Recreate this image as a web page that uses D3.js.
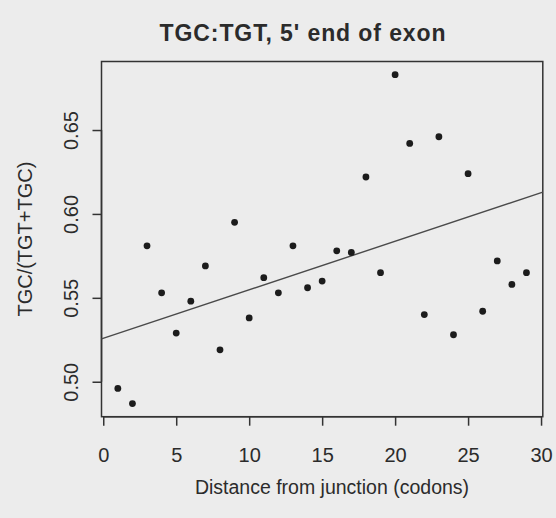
<!DOCTYPE html>
<html>
<head>
<meta charset="utf-8">
<script src="https://cdn.jsdelivr.net/npm/d3@7"></script>
<style>
  html, body { margin: 0; padding: 0; background: #ececec; }
  svg { display: block; }
  text { font-family: "Liberation Sans", Arial, Helvetica, sans-serif; fill: #2b2b2b; }
</style>
</head>
<body>
<svg id="chart" width="556" height="518"></svg>
<script>
// Codon position from the exon junction and TGC share at each position
const distance = [1, 2, 3, 4, 5, 6, 7, 8, 9, 10, 11, 12, 13, 14, 15,
                  16, 17, 18, 19, 20, 21, 22, 23, 24, 25, 26, 27, 28, 29];
const ratio = [0.496, 0.487, 0.581, 0.553, 0.529, 0.548, 0.569, 0.519, 0.595, 0.538,
               0.562, 0.553, 0.581, 0.556, 0.560, 0.578, 0.577, 0.622, 0.565, 0.683,
               0.642, 0.540, 0.646, 0.528, 0.624, 0.542, 0.572, 0.558, 0.565];

// Fitted trend line: ratio = intercept + slope * distance
const trendIntercept = 0.5259;
const trendSlope = 0.00289;

const xTicks = [0, 5, 10, 15, 20, 25, 30];
const yTicks = [0.50, 0.55, 0.60, 0.65];

const titleText = "TGC:TGT, 5' end of exon";
const xLabel = "Distance from junction (codons)";
const yLabel = "TGC/(TGT+TGC)";

const svg = d3.select("#chart");
const plot = { left: 101.5, right: 542.8, top: 61.5, bottom: 416.7 };

// Extend each data range by 4% on both sides
function padded(values) {
  const [lo, hi] = d3.extent(values);
  const pad = (hi - lo) * 0.04;
  return [lo - pad, hi + pad];
}

const x = d3.scaleLinear().domain(padded(distance)).range([plot.left, plot.right]);
const y = d3.scaleLinear().domain(padded(ratio)).range([plot.bottom, plot.top]);

// Plot frame
svg.append("rect")
  .attr("x", plot.left).attr("y", plot.top)
  .attr("width", plot.right - plot.left).attr("height", plot.bottom - plot.top)
  .attr("fill", "none").attr("stroke", "#333").attr("stroke-width", 1.5);

// Bottom axis
const gx = svg.append("g")
  .attr("transform", `translate(0,${plot.bottom})`)
  .call(d3.axisBottom(x).tickValues(xTicks).tickFormat(d3.format("d"))
        .tickSize(9).tickSizeOuter(0).tickPadding(22));
gx.select(".domain").attr("stroke", "#333").attr("stroke-width", 1.5)
  .attr("d", `M${x(xTicks[0])},0H${x(xTicks[xTicks.length - 1])}`);
gx.selectAll(".tick line").attr("stroke", "#333").attr("stroke-width", 1.5);
gx.selectAll(".tick text").attr("font-size", 20).attr("fill", "#333");

// Left axis with labels turned parallel to the axis
const gy = svg.append("g")
  .attr("transform", `translate(${plot.left},0)`)
  .call(d3.axisLeft(y).tickValues(yTicks).tickFormat(d3.format(".2f"))
        .tickSize(9).tickSizeOuter(0));
gy.select(".domain").attr("stroke", "#333").attr("stroke-width", 1.5)
  .attr("d", `M0,${y(yTicks[0])}V${y(yTicks[yTicks.length - 1])}`);
gy.selectAll(".tick line").attr("stroke", "#333").attr("stroke-width", 1.5);
gy.selectAll(".tick text")
  .attr("font-size", 20).attr("fill", "#333")
  .attr("x", null).attr("dy", null)
  .attr("text-anchor", "middle")
  .attr("transform", "translate(-23.5,0) rotate(-90)");

// Trend line across the full plot width
const [x0, x1] = x.domain();
svg.append("line")
  .attr("x1", x(x0)).attr("y1", y(trendIntercept + trendSlope * x0))
  .attr("x2", x(x1)).attr("y2", y(trendIntercept + trendSlope * x1))
  .attr("stroke", "#4a4a4a").attr("stroke-width", 1.4);

// Points
svg.append("g").selectAll("circle")
  .data(distance.map((d, i) => ({ d, r: ratio[i] })))
  .join("circle")
  .attr("cx", p => x(p.d)).attr("cy", p => y(p.r))
  .attr("r", 3.4).attr("fill", "#1c1c1c");

// Titles
svg.append("text")
  .attr("x", 303).attr("y", 41)
  .attr("text-anchor", "middle").attr("font-size", 23).attr("font-weight", "bold")
  .attr("letter-spacing", 0.9)
  .attr("fill", "#222")
  .text(titleText);

svg.append("text")
  .attr("x", 332).attr("y", 494)
  .attr("text-anchor", "middle").attr("font-size", 19.5)
  .attr("fill", "#333")
  .text(xLabel);

svg.append("text")
  .attr("transform", `translate(32,${(plot.top + plot.bottom) / 2}) rotate(-90)`)
  .attr("text-anchor", "middle").attr("font-size", 20)
  .attr("fill", "#333")
  .text(yLabel);
</script>
</body>
</html>
